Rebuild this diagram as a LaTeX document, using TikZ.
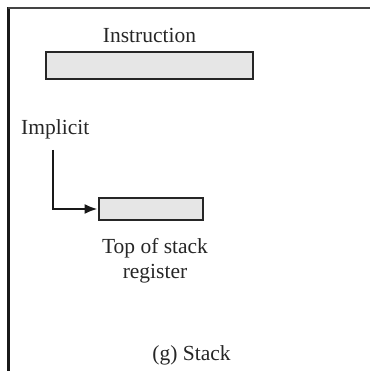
\documentclass[tikz,border=0pt]{standalone}
\usepackage{fontspec}
\setmainfont{Liberation Serif}
\usetikzlibrary{arrows.meta}
\definecolor{boxfill}{HTML}{E6E6E6}
\definecolor{framegray}{HTML}{444444}
\tikzset{
  regbox/.style={draw=black!85, line width=2.6pt, fill=boxfill, inner sep=0pt},
  lbl/.style={inner sep=0pt, anchor=base, font=\fontsize{21.5}{25}\selectfont, text=black!85},
  ptr/.style={line width=2.8pt, draw=black!90, -{Latex[length=13pt,width=10pt]}},
}
\begin{document}
\begin{tikzpicture}[x=1pt, y=-1pt]
  \useasboundingbox (0,0) rectangle (370,371);
  % panel frame (left and top edges)
  \draw[line width=2.6pt, black!90] (8.5,371) -- (8.5,7);
  \draw[line width=2.6pt, framegray] (7.5,8) -- (370,8);

  % instruction word
  \node[lbl] (instlbl) at (149.5,43) {Instruction};
  \node[regbox, minimum width=207pt, minimum height=27pt] (inst) at (149.5,65.5) {};

  % implicit operand reference
  \node[lbl, anchor=base west] (implbl) at (21,135) {Implicit};
  \coordinate (impstart) at (53,150);

  % top-of-stack register
  \node[regbox, minimum width=104pt, minimum height=22pt] (tos) at (151,209) {};
  \node[lbl] (toslbl) at (155,253) {Top of stack};
  \node[lbl] (toslbl2) at (155,278) {register};

  \draw[ptr] (impstart) |- (tos.west);

  % caption
  \node[lbl] (caption) at (191.5,360) {(g) Stack};
\end{tikzpicture}
\end{document}
